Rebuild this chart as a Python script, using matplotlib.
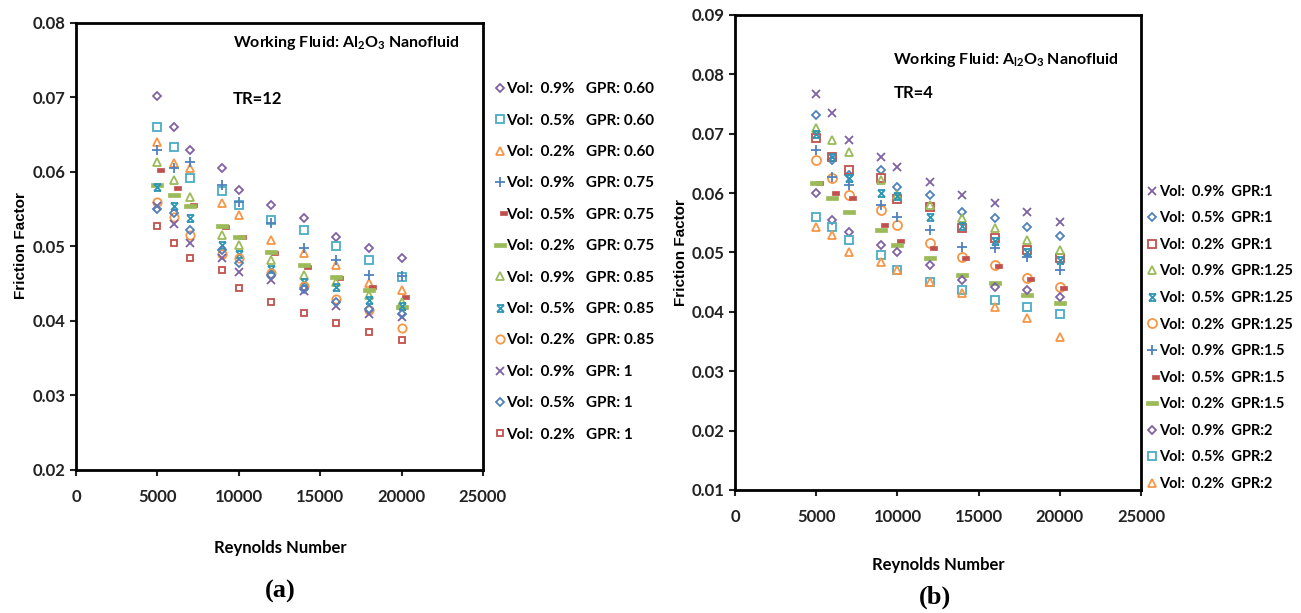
import matplotlib
matplotlib.use("Agg")
import matplotlib.pyplot as plt
from matplotlib.path import Path

plt.rcParams['font.family'] = ['Lato', 'DejaVu Sans']
plt.rcParams['mathtext.default'] = 'regular'

# Reynolds numbers (same for every series)
re = [5000, 6000, 7000, 9000, 10000, 12000, 14000, 16000, 18000, 20000]

# (a) TR=12
labels_a = ["Vol:  0.9%   GPR: 0.60", "Vol:  0.5%   GPR: 0.60", "Vol:  0.2%   GPR: 0.60",
            "Vol:  0.9%   GPR: 0.75", "Vol:  0.5%   GPR: 0.75", "Vol:  0.2%   GPR: 0.75",
            "Vol:  0.9%   GPR: 0.85", "Vol:  0.5%   GPR: 0.85", "Vol:  0.2%   GPR: 0.85",
            "Vol:  0.9%   GPR: 1", "Vol:  0.5%   GPR: 1", "Vol:  0.2%   GPR: 1"]
a_v09_g060 = [0.0702, 0.0660, 0.0630, 0.0605, 0.0576, 0.0556, 0.0538, 0.0513, 0.0498, 0.0485]
a_v05_g060 = [0.0660, 0.0634, 0.0592, 0.0574, 0.0556, 0.0536, 0.0522, 0.0500, 0.0482, 0.0459]
a_v02_g060 = [0.0640, 0.0612, 0.0605, 0.0558, 0.0542, 0.0509, 0.0491, 0.0475, 0.0451, 0.0442]
a_v09_g075 = [0.0630, 0.0605, 0.0613, 0.0583, 0.0560, 0.0532, 0.0498, 0.0482, 0.0462, 0.0461]
a_v05_g075 = [0.0603, 0.0578, 0.0556, 0.0526, 0.0513, 0.0491, 0.0473, 0.0458, 0.0446, 0.0432]
a_v02_g075 = [0.0583, 0.0569, 0.0555, 0.0527, 0.0513, 0.0493, 0.0475, 0.0459, 0.0442, 0.0419]
a_v09_g085 = [0.0613, 0.0589, 0.0566, 0.0515, 0.0502, 0.0482, 0.0462, 0.0452, 0.0435, 0.0425]
a_v05_g085 = [0.0580, 0.0555, 0.0538, 0.0502, 0.0490, 0.0470, 0.0452, 0.0445, 0.0428, 0.0420]
a_v02_g085 = [0.0560, 0.0540, 0.0515, 0.0490, 0.0485, 0.0465, 0.0447, 0.0430, 0.0415, 0.0390]
a_v09_g1 = [0.0554, 0.0530, 0.0505, 0.0485, 0.0466, 0.0455, 0.0440, 0.0420, 0.0410, 0.0405]
a_v05_g1 = [0.0550, 0.0545, 0.0522, 0.0495, 0.0478, 0.0462, 0.0443, 0.0426, 0.0416, 0.0410]
a_v02_g1 = [0.0528, 0.0505, 0.0485, 0.0468, 0.0444, 0.0426, 0.0411, 0.0397, 0.0385, 0.0374]

# (b) TR=4
labels_b = ["Vol:  0.9%  GPR:1", "Vol:  0.5%  GPR:1", "Vol:  0.2%  GPR:1",
            "Vol:  0.9%  GPR:1.25", "Vol:  0.5%  GPR:1.25", "Vol:  0.2%  GPR:1.25",
            "Vol:  0.9%  GPR:1.5", "Vol:  0.5%  GPR:1.5", "Vol:  0.2%  GPR:1.5",
            "Vol:  0.9%  GPR:2", "Vol:  0.5%  GPR:2", "Vol:  0.2%  GPR:2"]
b_v09_g1 = [0.0767, 0.0735, 0.0690, 0.0661, 0.0644, 0.0619, 0.0597, 0.0583, 0.0568, 0.0551]
b_v05_g1 = [0.0732, 0.0655, 0.0630, 0.0639, 0.0610, 0.0597, 0.0568, 0.0558, 0.0543, 0.0528]
b_v02_g1 = [0.0693, 0.0660, 0.0639, 0.0626, 0.0590, 0.0577, 0.0541, 0.0525, 0.0504, 0.0490]
b_v09_g125 = [0.0710, 0.0690, 0.0670, 0.0622, 0.0597, 0.0580, 0.0558, 0.0541, 0.0521, 0.0504]
b_v05_g125 = [0.0700, 0.0660, 0.0626, 0.0600, 0.0595, 0.0560, 0.0545, 0.0520, 0.0500, 0.0488]
b_v02_g125 = [0.0656, 0.0625, 0.0597, 0.0572, 0.0546, 0.0516, 0.0493, 0.0479, 0.0457, 0.0442]
b_v09_g15 = [0.0673, 0.0627, 0.0614, 0.0580, 0.0560, 0.0538, 0.0510, 0.0508, 0.0493, 0.0471]
b_v05_g15 = [0.0617, 0.0600, 0.0592, 0.0546, 0.0520, 0.0508, 0.0490, 0.0477, 0.0455, 0.0440]
b_v02_g15 = [0.0617, 0.0592, 0.0568, 0.0538, 0.0513, 0.0490, 0.0462, 0.0449, 0.0429, 0.0415]
b_v09_g2 = [0.0600, 0.0555, 0.0535, 0.0513, 0.0500, 0.0479, 0.0454, 0.0442, 0.0437, 0.0425]
b_v05_g2 = [0.0560, 0.0543, 0.0521, 0.0496, 0.0471, 0.0450, 0.0437, 0.0420, 0.0408, 0.0397]
b_v02_g2 = [0.0543, 0.0530, 0.0500, 0.0484, 0.0470, 0.0450, 0.0432, 0.0408, 0.0390, 0.0358]

# Excel style colours
purple = '#7E62A3'
lblue = '#4BACC6'
orange = '#F79646'
blue = '#4F81BD'
red = '#C0504D'
green = '#9BBB59'
teal = '#2E96B5'

# custom markers
red_dash = Path([(0, -0.35), (1, -0.35), (1, 0.35), (0, 0.35), (0, -0.35)])
green_dash = Path([(-1, -0.35), (1, -0.35), (1, 0.35), (-1, 0.35), (-1, -0.35)])
star = Path([(-1, -1), (1, 1), (-1, 1), (1, -1), (-1, 1), (1, 1), (-1, -1), (1, -1)],
            [Path.MOVETO, Path.LINETO, Path.MOVETO, Path.LINETO,
             Path.MOVETO, Path.LINETO, Path.MOVETO, Path.LINETO])

# marker, colour, filled, size
style_a = [('D', purple, False, 4.5), ('s', lblue, False, 5.5), ('^', orange, False, 6),
           ('+', blue, False, 7), (red_dash, red, True, 10), (green_dash, green, True, 8),
           ('^', green, False, 6), (star, teal, False, 5), ('o', orange, False, 6),
           ('x', purple, False, 5.5), ('D', blue, False, 4.5), ('s', red, False, 5)]
style_b = [('x', purple, False, 5.5), ('D', blue, False, 4.5), ('s', red, False, 6),
           ('^', green, False, 6), (star, teal, False, 5), ('o', orange, False, 6.5),
           ('+', blue, False, 7), (red_dash, red, True, 10), (green_dash, green, True, 8),
           ('D', purple, False, 4.5), ('s', lblue, False, 6), ('^', orange, False, 6)]

series_a = [a_v09_g060, a_v05_g060, a_v02_g060, a_v09_g075, a_v05_g075, a_v02_g075,
            a_v09_g085, a_v05_g085, a_v02_g085, a_v09_g1, a_v05_g1, a_v02_g1]
series_b = [b_v09_g1, b_v05_g1, b_v02_g1, b_v09_g125, b_v05_g125, b_v02_g125,
            b_v09_g15, b_v05_g15, b_v02_g15, b_v09_g2, b_v05_g2, b_v02_g2]


def draw(ax, series, styles, labels):
    for vals, (mk, col, filled, ms), lab in zip(series, styles, labels):
        ax.plot(re, vals, linestyle='none', marker=mk, markersize=ms,
                markeredgecolor=col, markerfacecolor=col if filled else 'none',
                markeredgewidth=1.3 if not filled else 0.5, label=lab)
    ax.set_xlim(0, 25000)
    ax.set_xticks([0, 5000, 10000, 15000, 20000, 25000])
    for s in ax.spines.values():
        s.set_linewidth(2)
        s.set_color('black')
    ax.tick_params(direction='out', length=4, width=1.5, labelsize=12, colors='#222222')
    ax.tick_params(axis='x', pad=10)
    for t in ax.get_xticklabels() + ax.get_yticklabels():
        t.set_fontweight('bold')


fig = plt.figure(figsize=(13.01, 6.13), dpi=100)

ax1 = fig.add_axes([0.0584, 0.2333, 0.3128, 0.7292])
draw(ax1, series_a, style_a, labels_a)
ax1.set_ylim(0.02, 0.08)
ax1.set_yticks([0.02, 0.03, 0.04, 0.05, 0.06, 0.07, 0.08])
ax1.set_yticklabels(['0.02', '0.03', '0.04', '0.05', '0.06', '0.07', '0.08'], fontweight='bold')
ax1.text(0.385, 0.955, r'Working Fluid: Al$_2$O$_3$ Nanofluid', transform=ax1.transAxes,
         fontsize=11.5, fontweight='bold', va='center')
ax1.text(0.385, 0.83, 'TR=12', transform=ax1.transAxes, fontsize=12, fontweight='bold', va='center')
fig.legend(handles=ax1.get_lines(), labels=labels_a, loc='upper left',
           bbox_to_anchor=(490 / 1301, 1 - 76 / 613), frameon=False,
           handlelength=0.5, handletextpad=0.15, labelspacing=1.14, borderaxespad=0,
           prop={'weight': 'bold', 'size': 11})
fig.text(21 / 1301, 1 - 246 / 613, 'Friction Factor', rotation=90, ha='center', va='center',
         fontsize=11, fontweight='bold', family=['Liberation Sans', 'DejaVu Sans'])
fig.text(280 / 1301, 1 - 548 / 613, 'Reynolds Number', ha='center', va='center',
         fontsize=12, fontweight='bold')
fig.text(280 / 1301, 1 - 591 / 613, '(a)', ha='center', va='center', fontsize=19,
         fontweight='bold', family=['Liberation Serif', 'DejaVu Serif'])

ax2 = fig.add_axes([0.565, 0.2007, 0.312, 0.7749])
draw(ax2, series_b, style_b, labels_b)
ax2.set_ylim(0.01, 0.09)
ax2.set_yticks([0.01, 0.02, 0.03, 0.04, 0.05, 0.06, 0.07, 0.08, 0.09])
ax2.set_yticklabels(['0.01', '0.02', '0.03', '0.04', '0.05', '0.06', '0.07', '0.08', '0.09'],
                    fontweight='bold')
ax2.text(0.39, 0.905, r'Working Fluid: A$_{l2}$O$_3$ Nanofluid', transform=ax2.transAxes,
         fontsize=11.5, fontweight='bold', va='center')
ax2.text(0.39, 0.835, 'TR=4', transform=ax2.transAxes, fontsize=12, fontweight='bold', va='center')
fig.legend(handles=ax2.get_lines(), labels=labels_b, loc='upper left',
           bbox_to_anchor=(1143 / 1301, 1 - 179 / 613), frameon=False,
           handlelength=0.5, handletextpad=0.2, labelspacing=0.86, borderaxespad=0,
           prop={'weight': 'bold', 'size': 10.5})
fig.text(681 / 1301, 1 - 253 / 613, 'Friction Factor', rotation=90, ha='center', va='center',
         fontsize=11, fontweight='bold', family=['Liberation Sans', 'DejaVu Sans'])
fig.text(938 / 1301, 1 - 565 / 613, 'Reynolds Number', ha='center', va='center',
         fontsize=12, fontweight='bold')
fig.text(935 / 1301, 1 - 597 / 613, '(b)', ha='center', va='center', fontsize=19,
         fontweight='bold', family=['Liberation Serif', 'DejaVu Serif'])

fig.savefig('out.png', dpi=100)
